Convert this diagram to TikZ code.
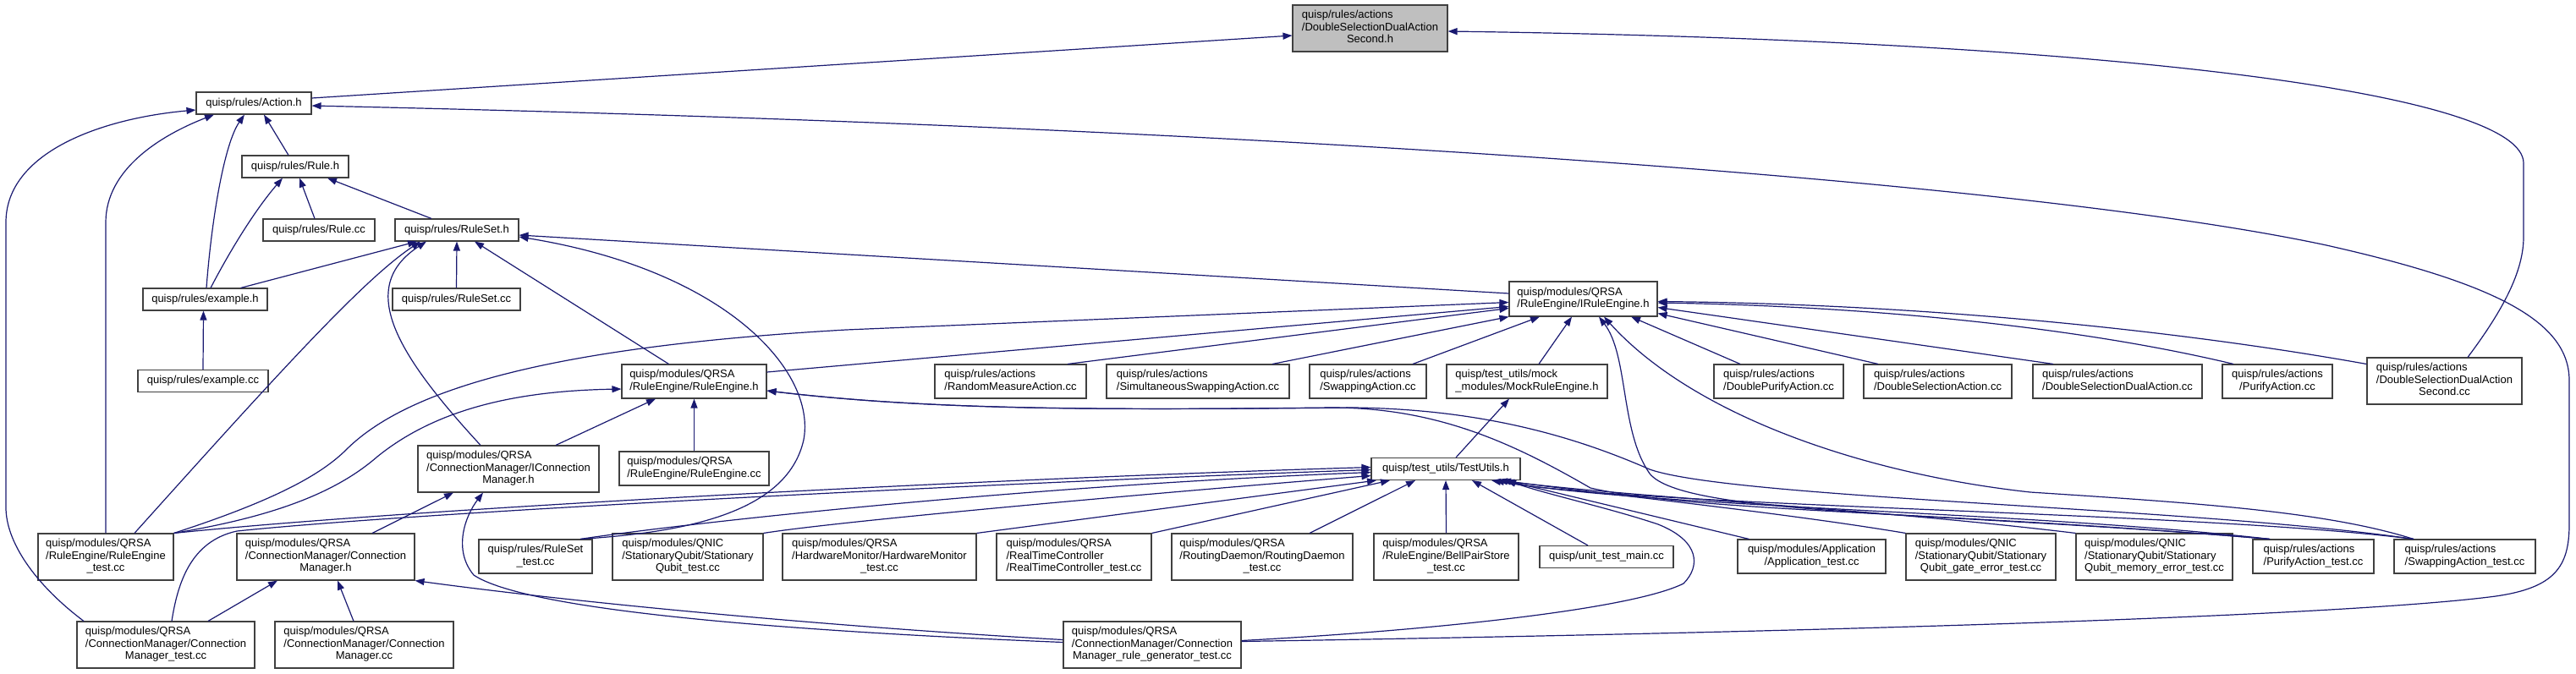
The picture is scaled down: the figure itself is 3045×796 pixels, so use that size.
\documentclass[tikz,border=0pt]{standalone}
\usepackage{fontspec}
\setmainfont{Liberation Sans}
\usetikzlibrary{arrows.meta}
\definecolor{edgec}{HTML}{191970}
\definecolor{boxc}{HTML}{404040}
\definecolor{hilite}{HTML}{BFBFBF}
\newcommand\lastrow[1]{\multicolumn{1}{@{}c@{}}{#1}}
\newcommand\mlines[1]{\begin{tabular}{@{}l@{}}#1\end{tabular}}
\tikzset{
  filebox/.style={draw=boxc, line width=1.1pt, fill=white, inner sep=0pt,
    font=\fontsize{13}{14.5}\selectfont, text=black},
  focusbox/.style={filebox, fill=hilite},
  dep/.style={draw=edgec, line width=1.2pt, -{Triangle[length=11pt,width=8pt]}},
}
\newcommand\fbx[6]{\node[filebox, minimum width=#4pt, minimum height=#5pt] (#1) at (#2,#3) {#6};}
\begin{document}
\begin{tikzpicture}[x=1pt,y=-1pt]
\useasboundingbox (0,0) rectangle (3045,796);
% nodes
\node[focusbox, minimum width=183pt, minimum height=55pt] (dsdash) at (1619.5,33.5) {\mlines{quisp/rules/actions\\/DoubleSelectionDualAction\\\lastrow{Second.h}}};
\fbx{action}{300}{122}{136}{26}{quisp/rules/Action.h}
\fbx{ruleh}{349}{197}{126}{26}{quisp/rules/Rule.h}
\fbx{rulecc}{377}{272}{132}{26}{quisp/rules/Rule.cc}
\fbx{rulesetH}{540}{272}{146}{26}{quisp/rules/RuleSet.h}
\fbx{exampleh}{242.5}{354}{147}{26}{quisp/rules/example.h}
\fbx{rulesetcc}{539.5}{354}{151}{26}{quisp/rules/RuleSet.cc}
\fbx{examplecc}{240}{450.5}{154}{26}{quisp/rules/example.cc}
\fbx{irule}{1871.5}{353.5}{175}{41}{\mlines{quisp/modules/QRSA\\/RuleEngine/IRuleEngine.h}}
\fbx{reh}{820.5}{451}{171}{40}{\mlines{quisp/modules/QRSA\\/RuleEngine/RuleEngine.h}}
\fbx{recc}{820.5}{554}{177}{40}{\mlines{quisp/modules/QRSA\\/RuleEngine/RuleEngine.cc}}
\fbx{icm}{601}{554.5}{214}{55}{\mlines{quisp/modules/QRSA\\/ConnectionManager/IConnection\\\lastrow{Manager.h}}}
\fbx{retest}{125}{658.5}{160}{55}{\mlines{quisp/modules/QRSA\\/RuleEngine/RuleEngine\\\lastrow{\_test.cc}}}
\fbx{cmh}{385}{658.5}{210}{55}{\mlines{quisp/modules/QRSA\\/ConnectionManager/Connection\\\lastrow{Manager.h}}}
\fbx{rulesettest}{633}{658}{134}{40}{\mlines{quisp/rules/RuleSet\\\lastrow{\_test.cc}}}
\fbx{sqtest}{813}{658.5}{178}{55}{\mlines{quisp/modules/QNIC\\/StationaryQubit/Stationary\\\lastrow{Qubit\_test.cc}}}
\fbx{hwtest}{1039.5}{658.5}{229}{55}{\mlines{quisp/modules/QRSA\\/HardwareMonitor/HardwareMonitor\\\lastrow{\_test.cc}}}
\fbx{cmtest}{196}{762.5}{210}{55}{\mlines{quisp/modules/QRSA\\/ConnectionManager/Connection\\\lastrow{Manager\_test.cc}}}
\fbx{cmcc}{430.5}{762.5}{211}{55}{\mlines{quisp/modules/QRSA\\/ConnectionManager/Connection\\\lastrow{Manager.cc}}}
\fbx{randmeas}{1194.5}{451}{179}{40}{\mlines{quisp/rules/actions\\/RandomMeasureAction.cc}}
\fbx{simswap}{1416}{451}{216}{40}{\mlines{quisp/rules/actions\\/SimultaneousSwappingAction.cc}}
\fbx{swapcc}{1617}{451}{138}{40}{\mlines{quisp/rules/actions\\/SwappingAction.cc}}
\fbx{mock}{1805}{451}{190}{40}{\mlines{quisp/test\_utils/mock\\\_modules/MockRuleEngine.h}}
\fbx{testutils}{1709}{554.5}{176}{26}{quisp/test\_utils/TestUtils.h}
\fbx{rtctest}{1269.5}{658.5}{183}{55}{\mlines{quisp/modules/QRSA\\/RealTimeController\\/RealTimeController\_test.cc}}
\fbx{rdtest}{1492}{658.5}{214}{55}{\mlines{quisp/modules/QRSA\\/RoutingDaemon/RoutingDaemon\\\lastrow{\_test.cc}}}
\fbx{bpstest}{1709.5}{658.5}{171}{55}{\mlines{quisp/modules/QRSA\\/RuleEngine/BellPairStore\\\lastrow{\_test.cc}}}
\fbx{utm}{1899}{658.5}{158}{26}{quisp/unit\_test\_main.cc}
\fbx{cmrgtest}{1362}{762.5}{210}{55}{\mlines{quisp/modules/QRSA\\/ConnectionManager/Connection\\\lastrow{Manager\_rule\_generator\_test.cc}}}
\fbx{dpurify}{2102.5}{451}{153}{40}{\mlines{quisp/rules/actions\\/DoublePurifyAction.cc}}
\fbx{dsel}{2290.5}{451}{175}{40}{\mlines{quisp/rules/actions\\/DoubleSelectionAction.cc}}
\fbx{dsdual}{2503}{451}{200}{40}{\mlines{quisp/rules/actions\\/DoubleSelectionDualAction.cc}}
\fbx{purifycc}{2692}{451}{130}{40}{\mlines{quisp/rules/actions\\\lastrow{/PurifyAction.cc}}}
\fbx{dsdascc}{2889.5}{450.5}{183}{55}{\mlines{quisp/rules/actions\\/DoubleSelectionDualAction\\\lastrow{Second.cc}}}
\fbx{apptest}{2141.5}{658}{175}{40}{\mlines{quisp/modules/Application\\\lastrow{/Application\_test.cc}}}
\fbx{sqgate}{2341.5}{658.5}{177}{55}{\mlines{quisp/modules/QNIC\\/StationaryQubit/Stationary\\\lastrow{Qubit\_gate\_error\_test.cc}}}
\fbx{sqmem}{2546.5}{658.5}{185}{55}{\mlines{quisp/modules/QNIC\\/StationaryQubit/Stationary\\\lastrow{Qubit\_memory\_error\_test.cc}}}
\fbx{purifytest}{2734.5}{658}{143}{40}{\mlines{quisp/rules/actions\\/PurifyAction\_test.cc}}
\fbx{swaptest}{2913.5}{658}{167}{40}{\mlines{quisp/rules/actions\\/SwappingAction\_test.cc}}
% edges
\draw[dep] ([yshift=6pt]action.east) -- ([yshift=-8.5pt]dsdash.west);
\draw[dep] ([xshift=27.5pt]dsdascc.north) .. controls (2960,365) and (2983,320) .. (2983,280) -- (2983,193) .. controls (2983,110) and (2500,48) .. ([yshift=-3.5pt]dsdash.east);
\draw[dep] ([xshift=-8pt]ruleh.north) -- ([xshift=12pt]action.south);
\draw[dep] ([xshift=1.5pt]exampleh.north) .. controls (250,260) and (265,170) .. ([xshift=-11pt]action.south);
\draw[dep] ([xshift=6.5pt]exampleh.north) .. controls (270,300) and (300,250) .. ([xshift=-15pt]ruleh.south);
\draw[dep] ([xshift=-5pt]rulecc.north) -- ([xshift=5pt]ruleh.south);
\draw[dep] ([xshift=-30pt]rulesetH.north) -- ([xshift=38pt]ruleh.south);
\draw[dep] ([xshift=42pt]exampleh.north) -- ([xshift=-47pt]rulesetH.south);
\draw[dep] (rulesetcc.north) -- (rulesetH.south);
\draw[dep] (examplecc.north) -- ([xshift=-2pt]exampleh.south);
\draw[dep] (retest.north) -- (125,263) .. controls (125,200) and (190,160) .. ([xshift=-47pt]action.south);
\draw[dep] ([xshift=-97pt]cmtest.north) .. controls (40,690) and (7,640) .. (7,600) -- (7,263) .. controls (7,180) and (120,140) .. ([yshift=-8pt]action.west);
\draw[dep] ([yshift=4pt]cmrgtest.east) .. controls (2300,745) and (2800,725) .. (2950,705) .. controls (3020,695) and (3037,670) .. (3037,620) -- (3037,450) .. controls (3037,380) and (2950,335) .. (2750,290) .. controls (2400,215) and (1500,150) .. ([yshift=-3pt]action.east);
\draw[dep] ([xshift=34pt]retest.north) .. controls (330,440) and (430,330) .. ([xshift=-43pt]rulesetH.south);
\draw[dep] ([xshift=-33pt]icm.north) .. controls (470,420) and (420,340) .. ([xshift=-36pt]rulesetH.south);
\draw[dep] ([xshift=-30pt]reh.north) -- ([xshift=21pt]rulesetH.south);
\draw[dep] ([xshift=53pt]rulesettest.north) .. controls (800,630) and (930,610) .. (950,520) .. controls (965,440) and (860,320) .. ([yshift=-8pt]rulesetH.east);
\draw[dep] ([yshift=6.5pt]irule.west) -- ([yshift=-6pt]rulesetH.east);
\draw[dep] (retest.north east) .. controls (330,590) and (380,560) .. (408,533) .. controls (480,460) and (650,410) .. (1000,390) -- ([yshift=-4pt]irule.west);
\draw[dep] (retest.north east) .. controls (330,610) and (400,580) .. (446,540) .. controls (520,480) and (620,462) .. ([yshift=-9pt]reh.west);
\draw[dep] (retest.north east) .. controls (500,600) and (1200,565) .. ([yshift=2pt]testutils.west);
\draw[dep] ([xshift=7pt]cmtest.north) .. controls (210,690) and (225,640) .. (280,628) .. controls (500,605) and (1200,570) .. ([yshift=-1pt]testutils.west);
\draw[dep] ([xshift=53pt]rulesettest.north) .. controls (800,620) and (1200,575) .. ([yshift=-4pt]testutils.west);
\draw[dep] (sqtest.north east) .. controls (1000,615) and (1400,580) .. ([yshift=-8pt]testutils.west);
\draw[dep] (hwtest.north east) -- ([xshift=-82pt]testutils.south);
\draw[dep] (rtctest.north east) -- ([xshift=-66pt]testutils.south);
\draw[dep] ([xshift=56pt]rdtest.north) -- ([xshift=-36pt]testutils.south);
\draw[dep] (bpstest.north) -- (testutils.south);
\draw[dep] ([xshift=-22pt]utm.north) -- ([xshift=31pt]testutils.south);
\draw[dep] ([xshift=-74pt]apptest.north) -- ([xshift=70pt]testutils.south);
\draw[dep] (sqgate.north west) .. controls (2100,605) and (1900,585) .. ([xshift=66pt]testutils.south);
\draw[dep] (sqmem.north west) .. controls (2200,600) and (1950,590) .. ([xshift=62pt]testutils.south);
\draw[dep] ([xshift=-51.5pt]purifytest.north) .. controls (2400,605) and (1950,600) .. ([xshift=58pt]testutils.south);
\draw[dep] ([xshift=-60.5pt]swaptest.north) .. controls (2600,605) and (1950,600) .. ([xshift=54pt]testutils.south);
\draw[dep] ([yshift=5pt]cmrgtest.east) .. controls (1700,745) and (1930,720) .. (1990,690) .. controls (2010,670) and (2010,640) .. (1960,620) .. controls (1900,600) and (1830,585) .. ([xshift=72pt]testutils.south);
\draw[dep] ([xshift=12pt]testutils.north) -- ([xshift=-21pt]mock.south);
\draw[dep] ([yshift=11pt]reh.east) -- ([yshift=-9pt]irule.west);
\draw[dep] ([xshift=67.5pt]randmeas.north) -- ([yshift=-11pt]irule.west);
\draw[dep] ([xshift=88pt]simswap.north) -- (irule.south west);
\draw[dep] ([xshift=53pt]swapcc.north) -- ([xshift=-51.5pt]irule.south);
\draw[dep] ([xshift=14pt]mock.north) -- ([xshift=-13.5pt]irule.south);
\draw[dep] ([xshift=-51.5pt]purifytest.north) .. controls (2300,605) and (1990,610) .. (1950,560) .. controls (1915,510) and (1925,420) .. ([xshift=18.5pt]irule.south);
\draw[dep] ([xshift=-60.5pt]swaptest.north) .. controls (2750,605) and (2600,595) .. (2400,582) .. controls (2200,560) and (2000,490) .. ([xshift=24.5pt]irule.south);
\draw[dep] ([xshift=-45.5pt]dpurify.north) -- ([xshift=56.5pt]irule.south);
\draw[dep] ([xshift=-70.5pt]dsel.north) -- ([yshift=-17pt]irule.east);
\draw[dep] ([xshift=-76pt]dsdual.north) -- ([yshift=-10pt]irule.east);
\draw[dep] ([xshift=-52pt]purifycc.north) .. controls (2450,385) and (2200,362) .. ([yshift=-4.5pt]irule.east);
\draw[dep] ([yshift=20pt]dsdascc.west) .. controls (2600,395) and (2300,360) .. ([yshift=-3pt]irule.east);
\draw[dep] ([xshift=56pt]icm.north) -- ([xshift=-45.5pt]reh.south);
\draw[dep] (recc.north) -- (reh.south);
\draw[dep] ([xshift=-51.5pt]purifytest.north) .. controls (2300,605) and (2000,605) .. (1880,577) .. controls (1790,525) and (1700,482) .. (1574,482) .. controls (1300,485) and (1100,485) .. ([yshift=-11pt]reh.east);
\draw[dep] ([xshift=-60.5pt]swaptest.north) .. controls (2600,600) and (2050,590) .. (1950,555) .. controls (1870,520) and (1760,484) .. (1600,482) .. controls (1300,485) and (1100,485) .. ([yshift=-11pt]reh.east);
\draw[dep] ([xshift=55pt]cmh.north) -- ([xshift=-65pt]icm.south);
\draw[dep] ([yshift=3pt]cmrgtest.west) .. controls (900,745) and (620,720) .. (560,680) .. controls (535,650) and (550,610) .. ([xshift=-30pt]icm.south);
\draw[dep] ([xshift=50pt]cmtest.north) -- ([xshift=-57pt]cmh.south);
\draw[dep] ([xshift=-12.5pt]cmcc.north) -- ([xshift=14pt]cmh.south);
\draw[dep] ([yshift=6pt]cmrgtest.west) .. controls (1000,742) and (700,715) .. (cmh.south east);
\end{tikzpicture}
\end{document}
